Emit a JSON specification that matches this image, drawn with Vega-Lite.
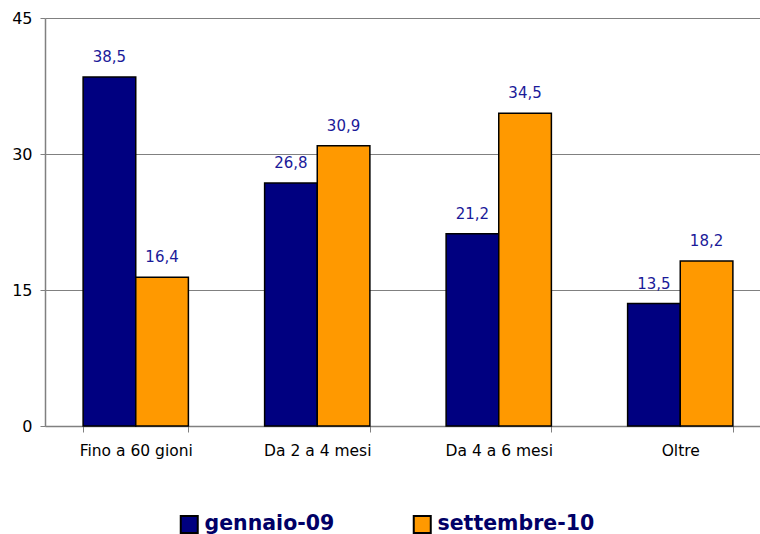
{
  "$schema": "https://vega.github.io/schema/vega-lite/v6.json",
  "autosize": "none",
  "width": 715,
  "height": 408,
  "padding": {"left": 45, "top": 18, "right": 0, "bottom": 108},
  "background": "white",
  "config": {
    "view": {"stroke": null},
    "locale": {"number": {"decimal": ",", "thousands": ".", "grouping": [3], "currency": ["€", ""]}},
    "font": "DejaVu Sans"
  },
  "data": {
    "values": [
      {"categoria": "Fino a 60 gioni", "periodo": "gennaio-09", "valore": 38.5},
      {"categoria": "Fino a 60 gioni", "periodo": "settembre-10", "valore": 16.4},
      {"categoria": "Da 2 a 4 mesi", "periodo": "gennaio-09", "valore": 26.8},
      {"categoria": "Da 2 a 4 mesi", "periodo": "settembre-10", "valore": 30.9},
      {"categoria": "Da 4 a 6 mesi", "periodo": "gennaio-09", "valore": 21.2},
      {"categoria": "Da 4 a 6 mesi", "periodo": "settembre-10", "valore": 34.5},
      {"categoria": "Oltre", "periodo": "gennaio-09", "valore": 13.5},
      {"categoria": "Oltre", "periodo": "settembre-10", "valore": 18.2}
    ]
  },
  "encoding": {
    "x": {
      "field": "categoria",
      "type": "nominal",
      "sort": null,
      "scale": {"range": [0, 726], "paddingInner": 0.42, "paddingOuter": 0.21},
      "axis": {
        "title": null,
        "labelAngle": 0,
        "tickBand": "extent",
        "grid": false,
        "domainColor": "#808080",
        "domainWidth": 1.5,
        "tickColor": "#808080",
        "tickSize": 6,
        "labelFontSize": 15.5,
        "labelColor": "#000000",
        "labelPadding": 11
      }
    },
    "xOffset": {"field": "periodo", "type": "nominal", "sort": ["gennaio-09", "settembre-10"]},
    "y": {
      "field": "valore",
      "type": "quantitative",
      "scale": {"domain": [0, 45]},
      "axis": {
        "title": null,
        "values": [0, 15, 30, 45],
        "gridColor": "#808080",
        "gridWidth": 1,
        "domainColor": "#808080",
        "domainWidth": 1.5,
        "tickColor": "#808080",
        "tickSize": 5,
        "labelFontSize": 16,
        "labelColor": "#000000",
        "labelPadding": 8
      }
    }
  },
  "layer": [
    {
      "mark": {"type": "bar", "stroke": "#000000", "strokeWidth": 1.5},
      "encoding": {
        "color": {
          "field": "periodo",
          "type": "nominal",
          "sort": ["gennaio-09", "settembre-10"],
          "scale": {"domain": ["gennaio-09", "settembre-10"], "range": ["#000080", "#FF9900"]},
          "legend": {
            "title": null,
            "orient": "none",
            "direction": "horizontal",
            "legendX": 134,
            "legendY": 496,
            "symbolType": "square",
            "symbolSize": 289,
            "symbolStrokeColor": "#000000",
            "symbolStrokeWidth": 2,
            "symbolOpacity": 1,
            "labelFontSize": 20.5,
            "labelFontWeight": "bold",
            "labelColor": "#000066",
            "labelOffset": 5,
            "columnPadding": 74,
            "labelLimit": 300
          }
        }
      }
    },
    {
      "mark": {"type": "text", "baseline": "bottom", "dy": -12, "fontSize": 15, "color": "#1a1a99"},
      "encoding": {
        "text": {"field": "valore", "type": "quantitative", "format": ".1f"}
      }
    }
  ]
}
